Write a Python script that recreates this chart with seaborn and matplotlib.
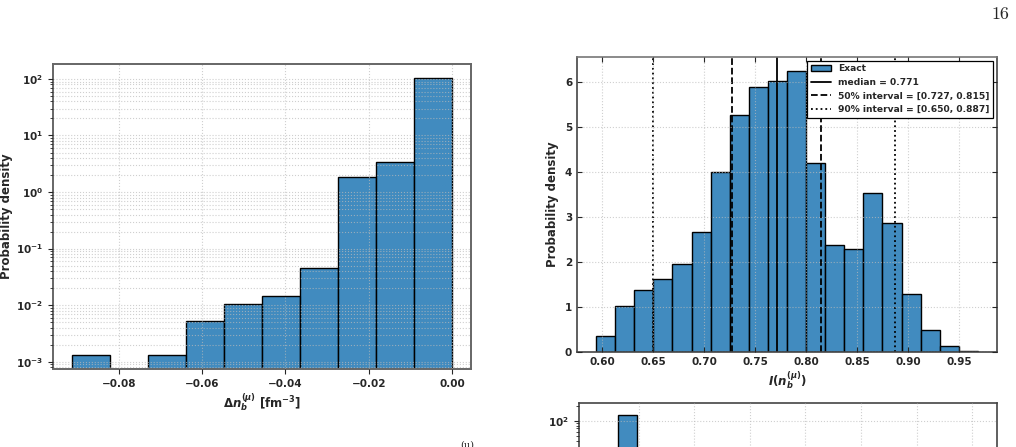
import numpy as np
import pandas as pd
import matplotlib
matplotlib.use("Agg")
import matplotlib.pyplot as plt
import seaborn as sns

# left panel: log-density histogram of the shift
dn_lo, dn_hi, dn_nbins = -0.0912, 0.0, 10
dn_density = [1.31e-3, 0.0, 1.31e-3, 5.2e-3, 1.03e-2, 1.42e-2, 4.5e-2, 1.84, 3.39, 103.0]

# right top panel: histogram of I(n_b)
I_lo, I_hi, I_nbins = 0.5938, 0.9686, 20
I_density = [0.35, 1.02, 1.37, 1.62, 1.95, 2.66, 4.00, 5.26, 5.89, 6.02,
             6.24, 4.19, 2.37, 2.29, 3.53, 2.86, 1.28, 0.49, 0.13, 0.02]
I_median = 0.771
I_50 = [0.727, 0.815]
I_90 = [0.650, 0.887]

# bottom right panel (only its top edge is visible)
p3_edges = [0.62, 0.96]
p3_density = [128.0]

sns.set_style("ticks")
plt.rcParams.update({
    "font.family": ["DejaVu Sans"],
    "font.weight": "bold",
    "axes.labelweight": "bold",
    "axes.edgecolor": "#444444",
    "axes.linewidth": 1.2,
    "mathtext.fontset": "dejavusans",
    "font.size": 7.5,
    "xtick.labelsize": 7.5,
    "ytick.labelsize": 7.5,
})

bar_kw = dict(color="#1f77b4", alpha=0.85, edgecolor="black", linewidth=1.0)
grid_kw = dict(ls=":", color="#bbbbbb", lw=0.8, alpha=0.7)


def weighted_hist(ax, edges, dens, **kw):
    edges = list(edges)
    centers = [(a + b) / 2 for a, b in zip(edges[:-1], edges[1:])]
    df = pd.DataFrame({"x": centers, "w": dens})
    sns.histplot(data=df, x="x", weights="w", bins=edges, stat="count", ax=ax, **kw)


fig = plt.figure(figsize=(10.16, 4.47), dpi=100)

# ---- left panel
ax1 = fig.add_axes([53/1016, 78/447, 418/1016, 305/447])
weighted_hist(ax1, np.linspace(dn_lo, dn_hi, dn_nbins + 1), dn_density, **bar_kw)
ax1.set_yscale("log")
ax1.set_ylim(7.4e-4, 184)
ax1.set_xlim(-0.0958, 0.00456)
ax1.set_xticks([-0.08, -0.06, -0.04, -0.02, 0.0])
ax1.set_xticklabels(["\u22120.08", "\u22120.06", "\u22120.04", "\u22120.02", "0.00"])
ax1.set_axisbelow(False)
ax1.grid(True, which="major", **grid_kw)
ax1.grid(True, which="minor", axis="y", **grid_kw)
ax1.tick_params(direction="out", which="both")
for s in ax1.spines.values():
    s.set_color("#666666")
    s.set_linewidth(1.4)
ax1.set_xlabel(r"$\boldsymbol{\Delta n_b^{(\mu)}}$ [fm$^{-3}$]", fontsize=8.5, labelpad=2)
ax1.set_ylabel("Probability density", fontsize=8.5, labelpad=2)

# ---- right top panel
ax2 = fig.add_axes([577/1016, 95/447, 420/1016, 295/447])
weighted_hist(ax2, np.linspace(I_lo, I_hi, I_nbins + 1), I_density, **bar_kw)
bars = ax2.containers[0]
h_med = ax2.axvline(I_median, color="black", ls="-", lw=1.3)
h_50 = None
for v in I_50:
    h_50 = ax2.axvline(v, color="black", ls="--", lw=1.3)
h_90 = None
for v in I_90:
    h_90 = ax2.axvline(v, color="black", ls=":", lw=1.3)
ax2.set_ylim(0, 6.55)
ax2.set_xlim(0.5751, 0.9873)
ax2.set_xticks([0.60, 0.65, 0.70, 0.75, 0.80, 0.85, 0.90, 0.95])
ax2.set_axisbelow(False)
ax2.grid(True, **grid_kw)
ax2.tick_params(direction="in", top=True, right=True)
ax2.spines["top"].set_color("#777777")
ax2.set_xlabel(r"$\boldsymbol{I(n_b^{(\mu)})}$", fontsize=8.5, labelpad=2)
ax2.set_ylabel("Probability density", fontsize=8.5)
leg = ax2.legend([bars, h_med, h_50, h_90],
                 ["Exact", f"median = {I_median:.3f}",
                  f"50% interval = [{I_50[0]:.3f}, {I_50[1]:.3f}]",
                  f"90% interval = [{I_90[0]:.3f}, {I_90[1]:.3f}]"],
                 loc="upper right", fancybox=False, framealpha=1,
                 edgecolor="black", borderaxespad=0.4, handlelength=2.2,
                 prop={"weight": "bold", "size": 6.6})
leg.get_frame().set_linewidth(0.9)
leg.set_zorder(5)

# ---- right bottom panel (cut off by the page edge)
ax3 = fig.add_axes([579/1016, -0.50, 418/1016, 0.5984])
weighted_hist(ax3, p3_edges, p3_density, **bar_kw)
ax3.set_yscale("log")
ax3.set_ylim(1e-3, 226)
ax3.set_xlim(-0.08, 7.45)
ax3.set_xticks([1, 2, 3, 4, 5, 6, 7])
ax3.set_yticks([1e2])
ax3.set_axisbelow(False)
ax3.grid(True, which="major", **grid_kw)
ax3.tick_params(direction="out", which="both", labelbottom=False)
ax3.set_ylabel("")
ax3.set_xlabel("")

# page furniture
fig.text(1000/1016, 1 - 14/447, "16", family="cmr10", fontsize=13, weight="normal",
         ha="center", va="center")
fig.text(467/1016, 1 - 441/447, "(\u03bc)", family="DejaVu Serif", fontsize=7,
         weight="normal", ha="center", va="top")

fig.savefig("out.png", dpi=100)
